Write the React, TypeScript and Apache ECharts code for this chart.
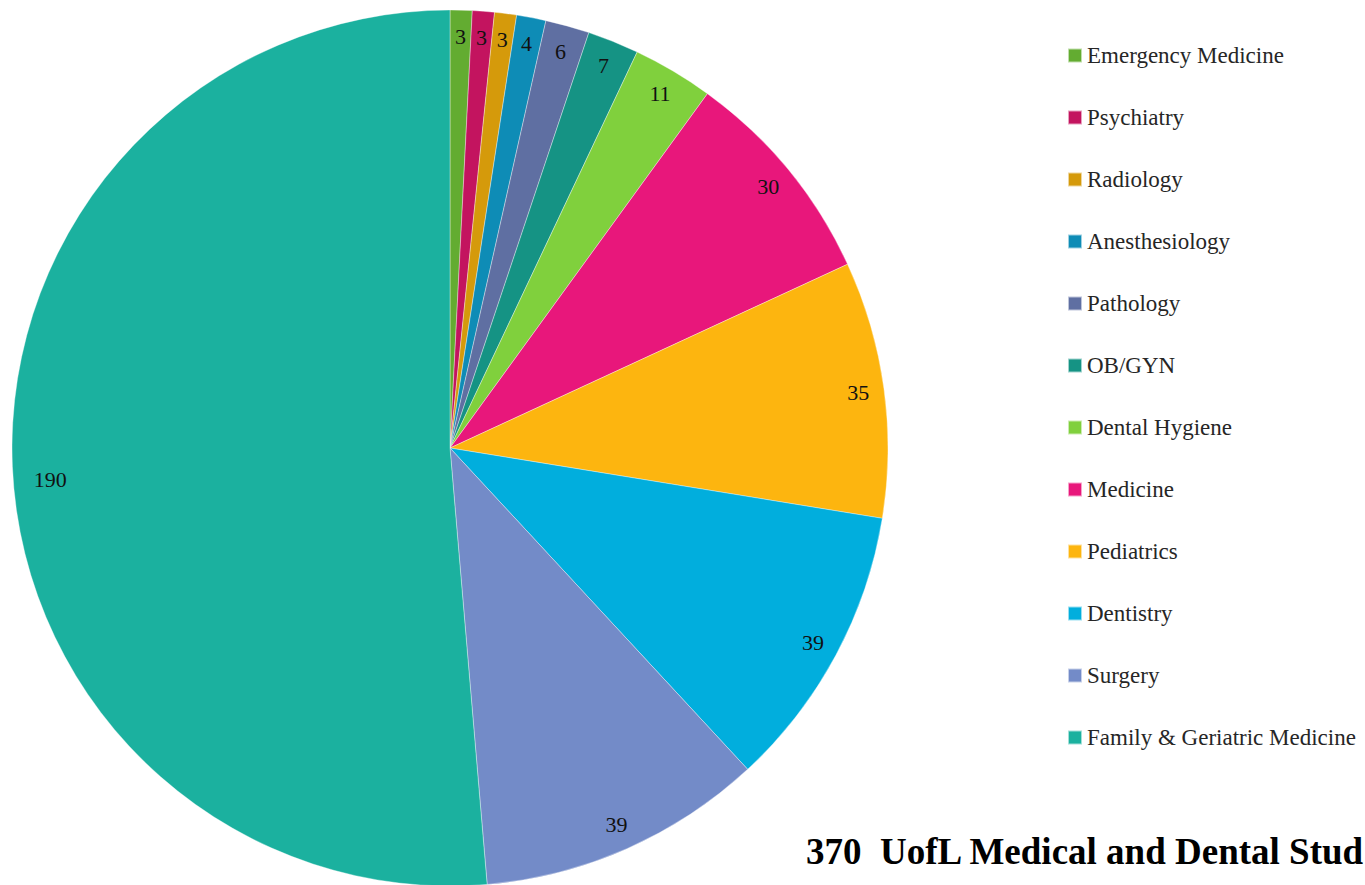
import React, { useEffect, useRef } from "react";
import * as echarts from "echarts";

const categories = [
  "Emergency Medicine",
  "Psychiatry",
  "Radiology",
  "Anesthesiology",
  "Pathology",
  "OB/GYN",
  "Dental Hygiene",
  "Medicine",
  "Pediatrics",
  "Dentistry",
  "Surgery",
  "Family & Geriatric Medicine",
];
const values = [3, 3, 3, 4, 6, 7, 11, 30, 35, 39, 39, 190];
const colors = [
  "#63AC31",
  "#C3145F",
  "#D59A0B",
  "#0E8CB6",
  "#5F6FA2",
  "#159384",
  "#80D03D",
  "#E8177B",
  "#FDB50F",
  "#01AEDD",
  "#738BC8",
  "#1BB19F",
];
const titleText = "370  UofL Medical and Dental Stud";
const SERIF = "Liberation Serif";

export default function App() {
  const ref = useRef<HTMLDivElement>(null);
  useEffect(() => {
    if (!ref.current) return;
    const chart = echarts.init(ref.current, null, { renderer: "svg" });
    const maxVal = Math.max(...values);
    const data = categories.map((name, i) => ({
      name,
      value: values[i],
      itemStyle: { color: colors[i] },
    }));
    chart.setOption({
      animation: false,
      textStyle: { fontFamily: SERIF },
      title: {
        text: titleText,
        left: 806,
        top: 833,
        padding: 0,
        textStyle: {
          fontFamily: SERIF,
          fontWeight: "bold",
          fontSize: 37,
          color: "#000",
        },
      },
      legend: {
        orient: "vertical",
        left: 1067,
        top: 44,
        padding: 0,
        icon: "rect",
        itemWidth: 14,
        itemHeight: 14,
        itemGap: 39,
        itemTextGap: 6,
        data: categories,
        textStyle: {
          fontFamily: SERIF,
          fontSize: 23,
          lineHeight: 23,
          color: "#262626",
        },
      },
      series: [
        {
          type: "pie",
          center: [450, 448],
          radius: [0, 438],
          startAngle: 90,
          clockwise: true,
          label: { show: false },
          labelLine: { show: false },
          itemStyle: { borderColor: "rgba(255,255,255,0.6)", borderWidth: 0.6 },
          emphasis: { disabled: true },
          data,
        },
        {
          type: "pie",
          center: [450, 448],
          radius: [378, 440],
          startAngle: 90,
          clockwise: true,
          silent: true,
          legendHoverLink: false,
          label: {
            show: true,
            position: "inside",
            formatter: "{c}",
            fontFamily: SERIF,
            fontSize: 22,
            color: "#111",
          },
          labelLine: { show: false },
          itemStyle: { color: "rgba(0,0,0,0)" },
          emphasis: { disabled: true },
          data: categories.map((name, i) => ({
            name,
            value: values[i],
            label: values[i] === maxVal ? { offset: [12, 14] } : undefined,
          })),
        },
      ],
    });
    return () => chart.dispose();
  }, []);
  return (
    <div
      ref={ref}
      style={{ position: "fixed", left: 0, top: 0, width: 1365, height: 885, background: "#fff" }}
    />
  );
}
